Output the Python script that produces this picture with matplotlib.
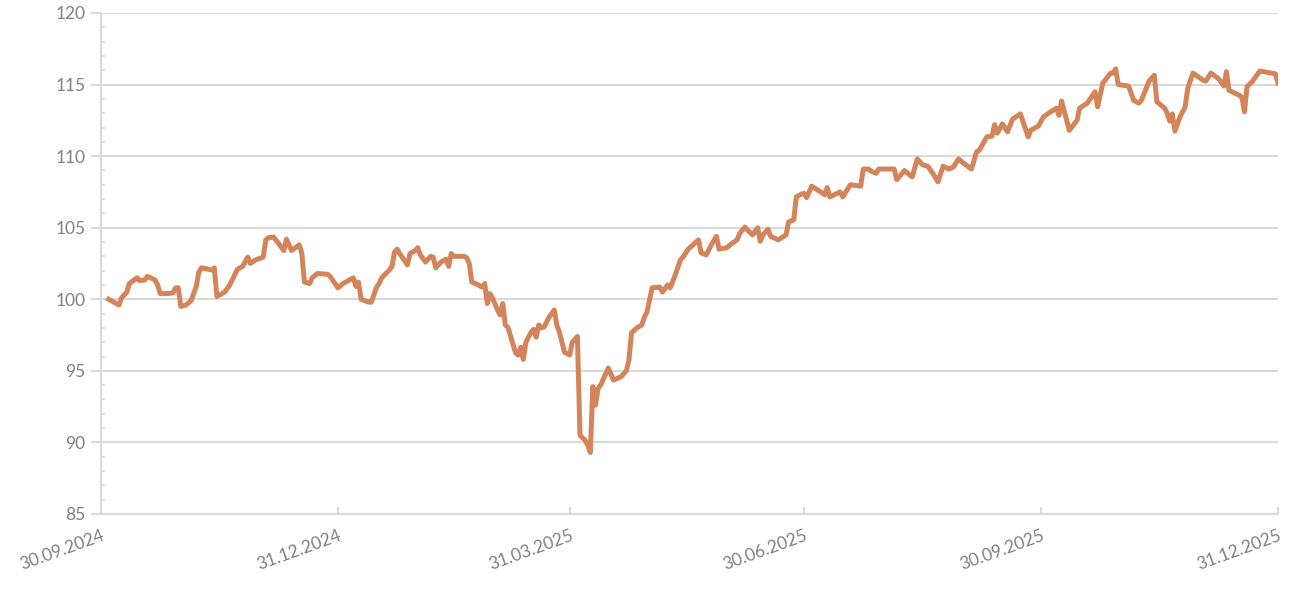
import matplotlib
matplotlib.use("Agg")
import matplotlib.pyplot as plt
import matplotlib.dates as mdates
from matplotlib.ticker import MultipleLocator
import pandas as pd

# index level, days counted from 30.09.2024
start_date = "2024-09-30"
day_offsets = [
    3, 7, 8, 10, 11, 14, 15, 17, 18, 21, 22, 23, 26, 28, 29, 30, 31, 33, 35, 37,
    38, 39, 43, 44, 45, 48, 50, 53, 55, 57, 58, 60, 63, 64, 65, 67, 69, 71, 72, 74,
    77, 78, 79, 81, 82, 84, 88, 89, 92, 94, 97, 98, 99, 100, 101, 104, 105, 107, 108, 109,
    112, 113, 114, 115, 116, 119, 120, 122, 123, 124, 126, 128, 129, 130, 132, 134, 135, 136, 137, 141,
    142, 143, 144, 146, 148, 149, 150, 151, 152, 154, 155, 156, 157, 158, 161, 162, 163, 164, 165, 167,
    168, 169, 170, 171, 172, 174, 176, 177, 178, 180, 181, 182, 183, 185, 186, 188, 189, 190, 191, 192,
    193, 194, 195, 197, 199, 202, 204, 205, 206, 208, 210, 211, 212, 214, 217, 218, 220, 221, 223, 225,
    226, 228, 232, 233, 235, 237, 239, 240, 243, 245, 247, 248, 250, 251, 253, 255, 256, 257, 259, 260,
    263, 266, 267, 269, 270, 272, 273, 274, 276, 279, 281, 282, 283, 287, 288, 291, 295, 296, 298, 299,
    301, 302, 308, 309, 312, 315, 317, 319, 321, 323, 325, 327, 329, 330, 331, 333, 335, 338, 340, 341,
    344, 346, 347, 348, 350, 352, 354, 357, 360, 361, 364, 366, 368, 371, 372, 373, 376, 379, 380, 383,
    386, 387, 389, 392, 393, 394, 395, 399, 401, 403, 404, 407, 409, 410, 413, 414, 415, 416, 417, 419,
    421, 422, 424, 428, 429, 431, 434, 436, 437, 438, 442, 443, 444, 445, 447, 450, 456, 457,
]
index_values = [
    100.0, 99.6, 100.1, 100.5, 101.1, 101.5, 101.3, 101.35, 101.6, 101.35, 101.0, 100.4, 100.4, 100.45, 100.8, 100.8, 99.5, 99.6, 99.9, 100.9,
    101.9, 102.2, 102.05, 102.2, 100.2, 100.5, 101.0, 102.1, 102.3, 102.95, 102.5, 102.75, 102.95, 104.15, 104.3, 104.35, 103.9, 103.4, 104.2, 103.4,
    103.8, 103.2, 101.2, 101.1, 101.5, 101.8, 101.75, 101.6, 100.8, 101.1, 101.4, 101.5, 100.9, 101.2, 100.0, 99.8, 99.8, 100.85, 101.1, 101.5,
    102.05, 102.3, 103.3, 103.5, 103.2, 102.4, 103.2, 103.4, 103.6, 103.1, 102.6, 103.0, 102.95, 102.2, 102.6, 102.8, 102.3, 103.2, 103.0, 103.0,
    102.9, 102.5, 101.2, 101.05, 100.85, 101.1, 99.7, 100.4, 100.1, 99.25, 98.9, 99.7, 98.2, 98.05, 96.25, 96.1, 96.65, 95.8, 97.0, 97.7,
    97.9, 97.35, 98.2, 98.0, 98.05, 98.75, 99.25, 98.2, 97.7, 96.3, 96.2, 96.1, 97.0, 97.4, 90.5, 90.15, 89.8, 89.3, 93.9, 92.6,
    93.75, 94.0, 94.4, 95.2, 94.35, 94.6, 95.0, 95.75, 97.65, 98.0, 98.2, 98.75, 99.1, 100.8, 100.85, 100.5, 101.0, 100.8, 101.7, 102.75,
    102.95, 103.5, 104.15, 103.25, 103.1, 103.8, 104.4, 103.5, 103.6, 103.9, 104.15, 104.6, 105.05, 104.85, 104.5, 105.0, 104.05, 104.5, 104.9, 104.4,
    104.15, 104.5, 105.4, 105.55, 107.15, 107.35, 107.4, 107.1, 107.9, 107.55, 107.3, 107.8, 107.15, 107.5, 107.15, 108.0, 107.9, 109.1, 109.1, 108.95,
    108.8, 109.1, 109.1, 108.35, 109.0, 108.55, 109.8, 109.4, 109.3, 108.8, 108.2, 109.3, 109.1, 109.15, 109.25, 109.8, 109.5, 109.1, 110.3, 110.4,
    111.35, 111.4, 112.2, 111.6, 112.25, 111.7, 112.6, 112.95, 111.35, 111.8, 112.1, 112.75, 113.0, 113.35, 112.85, 113.85, 111.8, 112.5, 113.35, 113.7,
    114.5, 113.45, 115.1, 115.8, 115.8, 116.1, 115.0, 114.9, 113.9, 113.7, 113.9, 115.25, 115.65, 113.8, 113.35, 113.0, 112.45, 112.95, 111.75, 112.75,
    113.45, 114.75, 115.8, 115.3, 115.25, 115.8, 115.4, 114.9, 115.9, 114.6, 114.25, 114.1, 113.1, 114.85, 115.2, 115.95, 115.75, 115.1,
]
tick_dates = ["2024-09-30", "2024-12-31", "2025-03-31", "2025-06-30", "2025-09-30", "2025-12-31"]

dates = pd.Timestamp(start_date) + pd.to_timedelta(day_offsets, unit="D")
ticks = pd.to_datetime(tick_dates)

plt.rcParams['font.family'] = ['Lato', 'DejaVu Sans']
grey_text = "#808080"
grid_col = "#D9D9D9"

fig = plt.figure(figsize=(13.08, 5.96), dpi=100)
ax = fig.add_axes([0.0772, 0.1376, 0.8998, 0.8406])

ax.plot(dates, index_values, color="#D4845A", linewidth=3.6, solid_joinstyle="round", zorder=3)

ax.set_ylim(85, 120)
ax.set_xlim(ticks[0], ticks[-1])
ax.yaxis.set_major_locator(MultipleLocator(5))
ax.yaxis.set_minor_locator(MultipleLocator(1))
ax.grid(axis="y", which="major", color=grid_col, linewidth=1.5, zorder=0)

ax.set_xticks(ticks)
ax.xaxis.set_major_formatter(mdates.DateFormatter("%d.%m.%Y"))

for side in ["top", "right"]:
    ax.spines[side].set_visible(False)
for side in ["left", "bottom"]:
    ax.spines[side].set_color(grid_col)
    ax.spines[side].set_linewidth(1.5)

ax.tick_params(axis="y", which="major", direction="out", length=7, width=1.5,
               color=grid_col, labelcolor=grey_text, labelsize=12.5, pad=4)
ax.tick_params(axis="y", which="minor", direction="in", length=3, width=1.2, color=grid_col)
ax.tick_params(axis="x", which="major", direction="in", length=5, width=1.5,
               color=grid_col, labelcolor=grey_text, labelsize=12.5, pad=10)
for lbl in ax.get_xticklabels():
    lbl.set_rotation(20)
    lbl.set_ha("right")
    lbl.set_va("top")
    lbl.set_rotation_mode("anchor")

fig.savefig("out.png", dpi=100, facecolor="white")
